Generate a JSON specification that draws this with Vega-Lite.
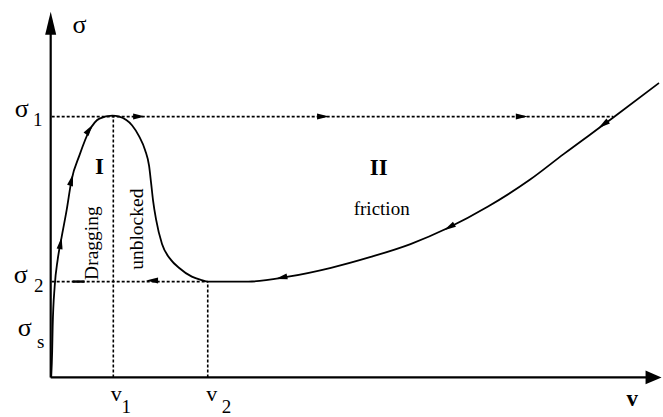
{
  "$schema": "https://vega.github.io/schema/vega-lite/v6.json",
  "width": 663,
  "height": 417,
  "autosize": {"type": "fit", "contains": "padding"},
  "padding": 0,
  "background": "white",
  "config": {"view": {"stroke": null}, "text": {"font": "Liberation Serif", "color": "black"}},
  "datasets": {
    "guides": [
      {"v": 1, "v2": 566, "s": 264, "s2": 264},
      {"v": 1, "v2": 158, "s": 97, "s2": 97},
      {"v": 63, "v2": 63, "s": 0, "s2": 264},
      {"v": 158, "v2": 158, "s": 0, "s2": 97}
    ],
    "axes": [
      {"v": 0, "v2": 0, "s": 0, "s2": 350},
      {"v": 0, "v2": 603, "s": 0, "s2": 0}
    ],
    "curve": [
      {"v": 0.5, "s": 0}, {"v": 1.5, "s": 27}, {"v": 2, "s": 52}, {"v": 4, "s": 92},
      {"v": 7, "s": 119}, {"v": 11, "s": 142}, {"v": 16, "s": 169}, {"v": 21, "s": 200},
      {"v": 29, "s": 225}, {"v": 39, "s": 250}, {"v": 49, "s": 262}, {"v": 62, "s": 265},
      {"v": 69, "s": 264}, {"v": 82, "s": 255}, {"v": 89, "s": 244}, {"v": 95, "s": 230},
      {"v": 99, "s": 214}, {"v": 101, "s": 197}, {"v": 103, "s": 179}, {"v": 106, "s": 160},
      {"v": 112, "s": 135}, {"v": 121, "s": 119}, {"v": 129, "s": 111}, {"v": 142, "s": 102},
      {"v": 152, "s": 98.5}, {"v": 158, "s": 97}, {"v": 199, "s": 97}, {"v": 239, "s": 102},
      {"v": 282, "s": 111}, {"v": 322, "s": 122}, {"v": 362, "s": 135}, {"v": 399, "s": 151},
      {"v": 440, "s": 173}, {"v": 482, "s": 200}, {"v": 516, "s": 226}, {"v": 566, "s": 263},
      {"v": 612, "s": 298}
    ],
    "flow": [
      {"v": 10, "s": 136, "heading": 10},
      {"v": 21, "s": 200, "heading": 15},
      {"v": 39, "s": 251, "heading": 35},
      {"v": 89, "s": 264, "heading": 90},
      {"v": 274, "s": 264, "heading": 90},
      {"v": 474, "s": 264, "heading": 90},
      {"v": 556, "s": 256, "heading": 234},
      {"v": 401, "s": 152, "heading": 240},
      {"v": 232, "s": 101, "heading": 258},
      {"v": 102, "s": 98, "heading": 270}
    ],
    "symbols": [
      {"v": 29, "s": 356.5, "t": "σ"},
      {"v": -29, "s": 272, "t": "σ"},
      {"v": -30, "s": 104, "t": "σ"},
      {"v": -26, "s": 50, "t": "σ"}
    ],
    "subscripts": [
      {"v": -13, "s": 261, "t": "1"},
      {"v": -12, "s": 93, "t": "2"},
      {"v": -10, "s": 36, "t": "s"},
      {"v": 76, "s": -30, "t": "1"},
      {"v": 177, "s": -30, "t": "2"}
    ],
    "speeds": [
      {"v": 66, "s": -16.4, "t": "v"},
      {"v": 162, "s": -16.4, "t": "v"}
    ],
    "regions": [
      {"v": 49, "s": 213, "t": "I"},
      {"v": 330, "s": 212, "t": "II"},
      {"v": 585, "s": -21.4, "t": "v"}
    ],
    "notes": [
      {"v": 333, "s": 170, "t": "friction"}
    ],
    "phases": [
      {"v": 42, "s": 136, "t": "Dragging"},
      {"v": 87, "s": 150, "t": "unblocked"}
    ]
  },
  "encoding": {
    "x": {"field": "v", "type": "quantitative", "scale": {"domain": [-51, 612], "nice": false, "zero": false}, "axis": null},
    "y": {"field": "s", "type": "quantitative", "scale": {"domain": [-35, 382], "nice": false, "zero": false}, "axis": null}
  },
  "layer": [
    {
      "data": {"name": "guides"},
      "mark": {"type": "rule", "color": "black", "strokeWidth": 1.6, "strokeDash": [3, 2]},
      "encoding": {"x2": {"field": "v2"}, "y2": {"field": "s2"}}
    },
    {
      "data": {"name": "axes"},
      "mark": {"type": "rule", "color": "black", "strokeWidth": 2.2},
      "encoding": {"x2": {"field": "v2"}, "y2": {"field": "s2"}}
    },
    {
      "data": {"name": "curve"},
      "mark": {"type": "line", "color": "black", "strokeWidth": 1.8, "interpolate": "monotone"},
      "encoding": {"order": {"field": "v", "type": "quantitative"}}
    },
    {
      "data": {"values": [{"v": 22, "v2": 34, "s": 97, "s2": 97}]},
      "mark": {"type": "rule", "color": "black", "strokeWidth": 2.4},
      "encoding": {"x2": {"field": "v2"}, "y2": {"field": "s2"}}
    },
    {
      "data": {"name": "flow"},
      "mark": {"type": "point", "shape": "M0,-1L0.5,1L-0.5,1Z", "size": 144, "filled": true, "color": "black", "opacity": 1},
      "encoding": {"angle": {"field": "heading", "type": "quantitative", "scale": null}}
    },
    {
      "data": {"values": [{"v": 0, "s": 358.5}]},
      "mark": {"type": "point", "shape": "M0,-1L0.48,1L-0.48,1Z", "size": 529, "filled": true, "color": "black", "opacity": 1}
    },
    {
      "data": {"values": [{"v": 606.5, "s": 0}]},
      "mark": {"type": "point", "shape": "M0,-1L0.85,1L-0.85,1Z", "size": 256, "filled": true, "color": "black", "opacity": 1, "angle": 90}
    },
    {
      "data": {"name": "symbols"},
      "mark": {"type": "text", "fontSize": 26, "align": "center", "baseline": "middle"},
      "encoding": {"text": {"field": "t"}}
    },
    {
      "data": {"name": "subscripts"},
      "mark": {"type": "text", "fontSize": 19, "align": "center", "baseline": "middle"},
      "encoding": {"text": {"field": "t"}}
    },
    {
      "data": {"name": "speeds"},
      "mark": {"type": "text", "fontSize": 22, "align": "center", "baseline": "middle"},
      "encoding": {"text": {"field": "t"}}
    },
    {
      "data": {"name": "regions"},
      "mark": {"type": "text", "fontSize": 23, "fontWeight": "bold", "align": "center", "baseline": "middle"},
      "encoding": {"text": {"field": "t"}}
    },
    {
      "data": {"name": "notes"},
      "mark": {"type": "text", "fontSize": 19, "align": "center", "baseline": "middle"},
      "encoding": {"text": {"field": "t"}}
    },
    {
      "data": {"name": "phases"},
      "mark": {"type": "text", "fontSize": 19.5, "align": "center", "baseline": "middle", "angle": 270},
      "encoding": {"text": {"field": "t"}}
    }
  ]
}
